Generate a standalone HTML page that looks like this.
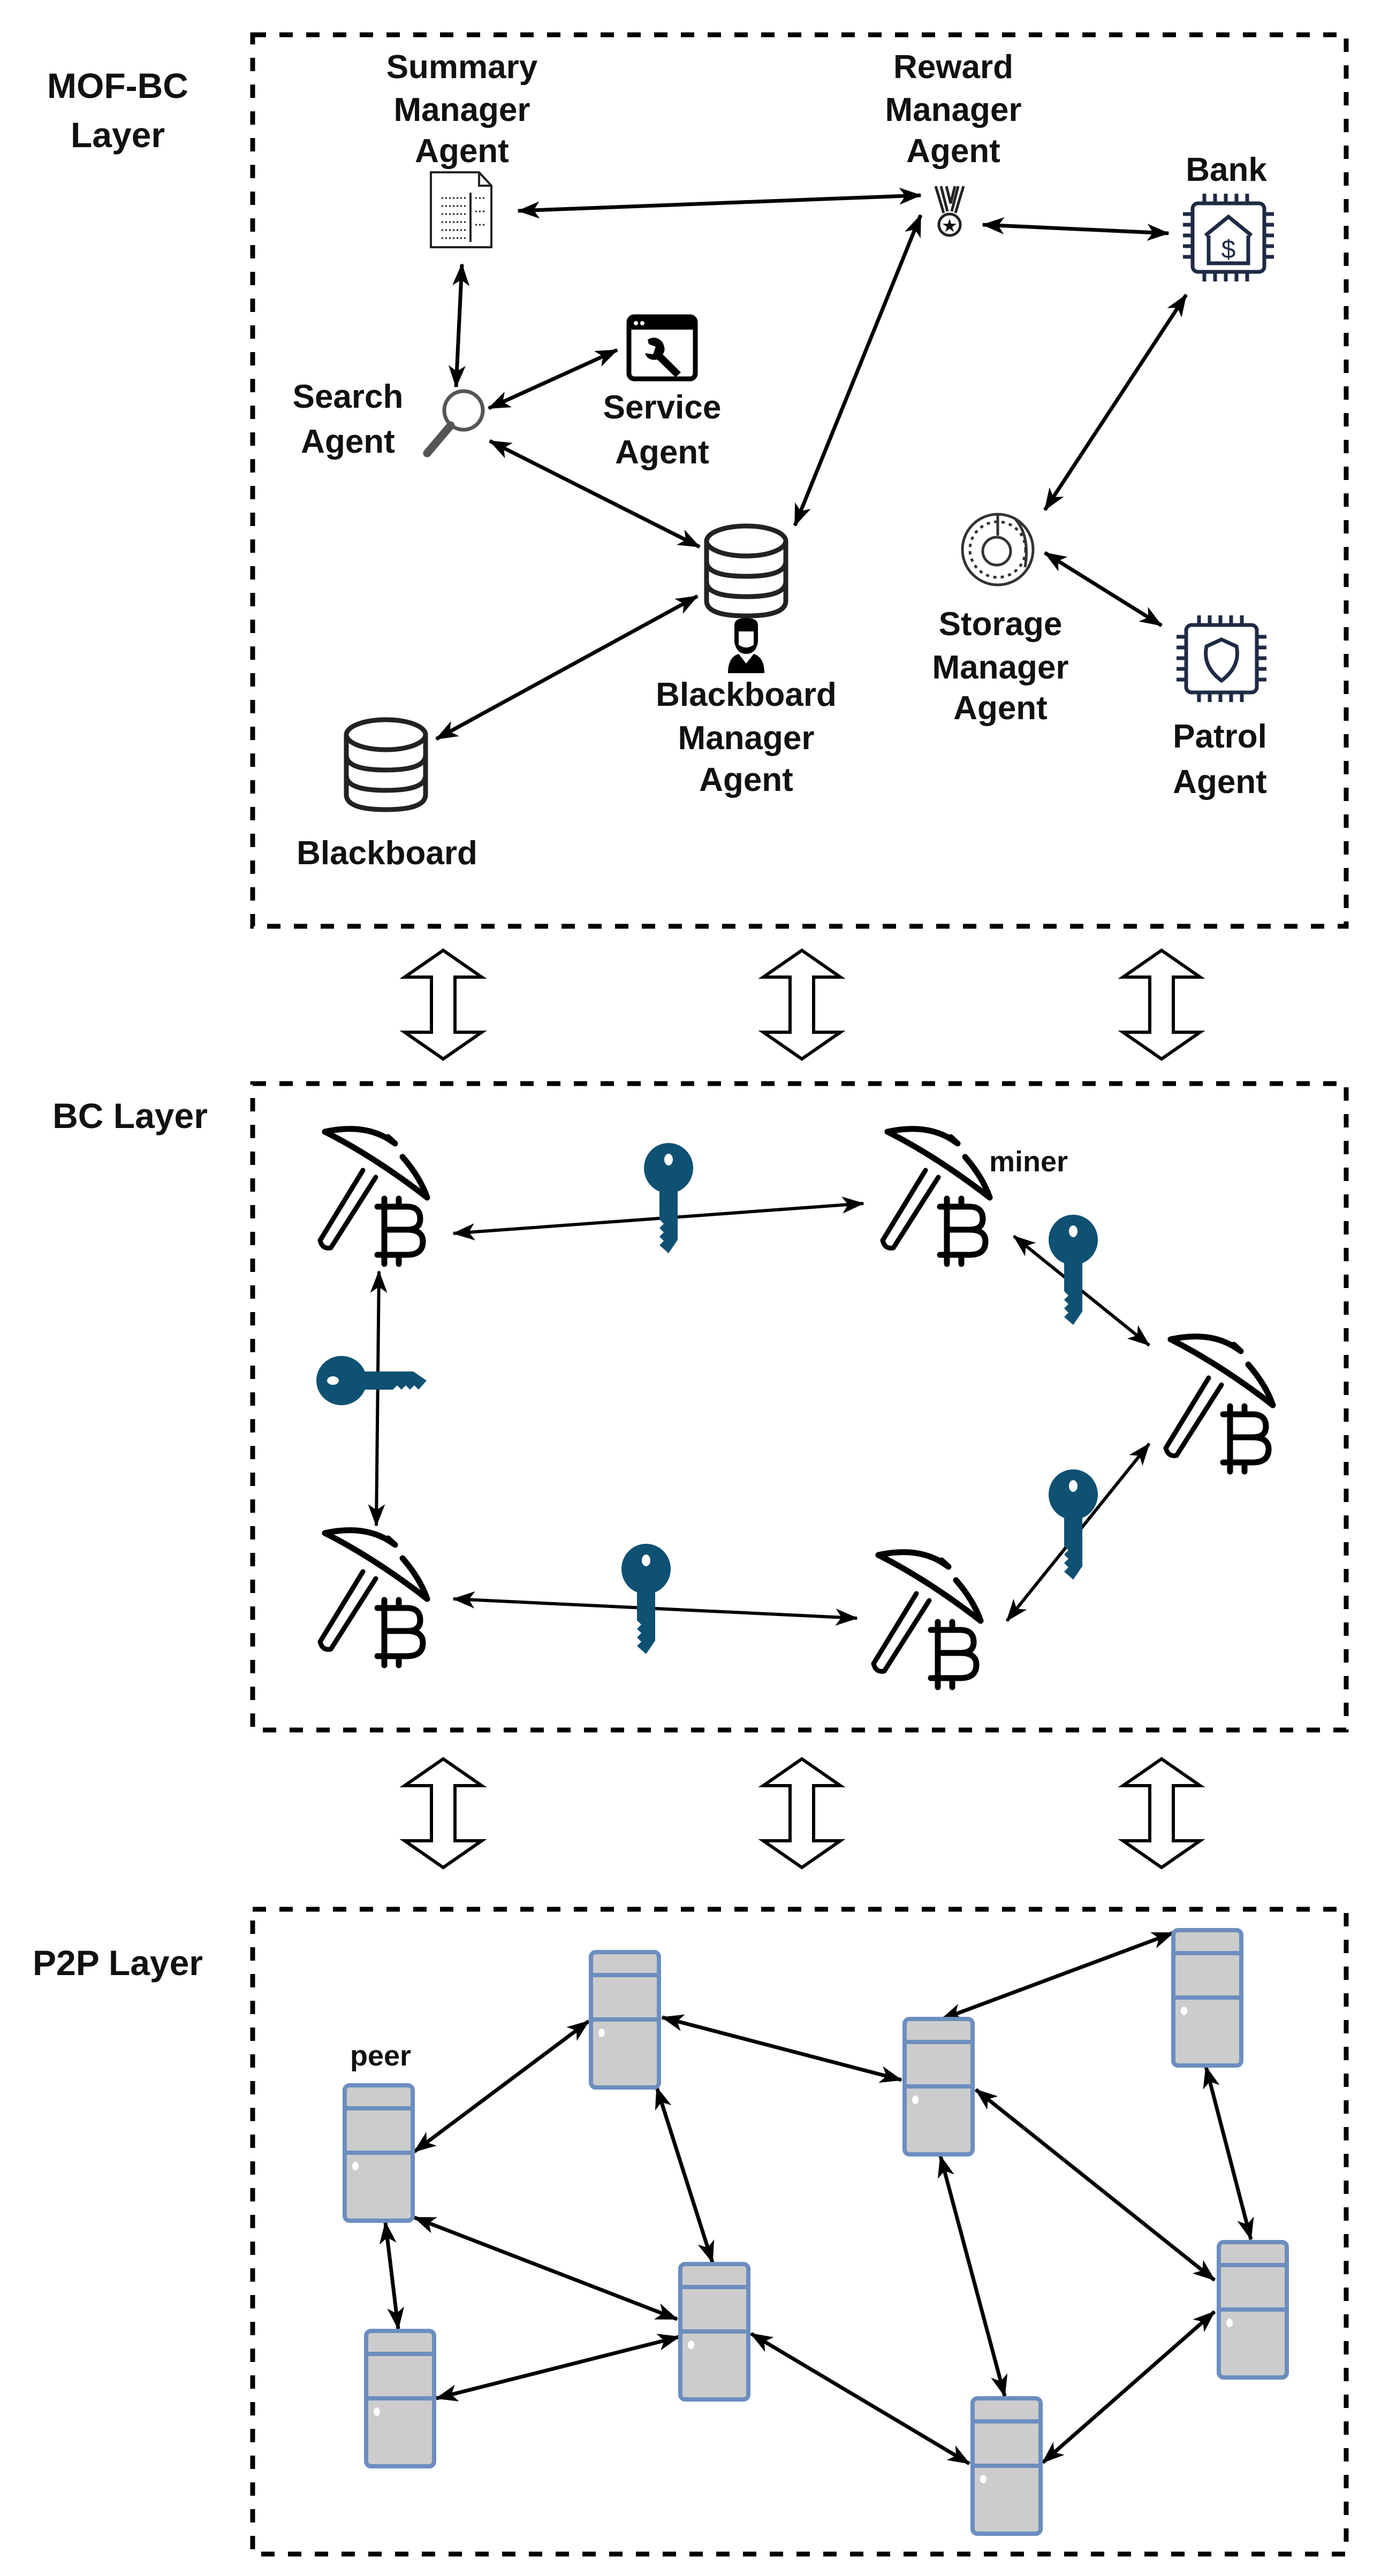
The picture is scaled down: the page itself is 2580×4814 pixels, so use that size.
<!DOCTYPE html>
<html><head><meta charset="utf-8"><style>
html,body{margin:0;padding:0;background:#fff}
svg{display:block}
text{font-family:"Liberation Sans",sans-serif;font-weight:bold;fill:#111}
</style></head><body>
<svg width="2580" height="4814" viewBox="0 0 2580 4814" xmlns="http://www.w3.org/2000/svg">
<defs>
<marker id="ah" markerUnits="userSpaceOnUse" markerWidth="44" markerHeight="34" refX="40" refY="16" orient="auto-start-reverse">
<path d="M0,0 L42,16 L0,32 L11,16 z" fill="#000"/>
</marker>
<g id="miner" fill="none" stroke="#000" stroke-linecap="round" stroke-linejoin="round">
<path d="M27,25 Q 105,8 155,45" stroke-width="11"/>
<path d="M145,35 L158,47" stroke-width="11"/>
<path d="M172,72 Q 205,110 218,148" stroke-width="11"/>
<path d="M27,25 Q 120,72 218,148" stroke-width="11"/>
<path d="M98,97 L18,228 Q 22,245 38,242 L122,110" stroke-width="9"/>
<path d="M138,150 L138,272 M165,150 L165,165 M165,255 L165,272 M125,165 L180,165 Q205,165 205,188 Q205,208 180,208 L138,208 M180,208 Q210,208 210,230 Q210,255 180,255 L125,255" stroke-width="11"/>
</g>
<g id="keyv" fill="#0f5173">
<ellipse cx="0" cy="46" rx="46" ry="47"/>
<path d="M-17,80 L17,80 L17,180 L0,205 L-17,190 L-9,182 L-17,174 L-9,166 L-17,158 L-9,150 L-17,142 z"/>
<ellipse cx="0" cy="30" rx="8" ry="11" fill="#fff"/>
</g>
<g id="server">
<rect x="0" y="0" width="127" height="253" rx="9" fill="#cccccc" stroke="#6c8ebf" stroke-width="8"/>
<line x1="0" y1="43" x2="127" y2="43" stroke="#6c8ebf" stroke-width="8"/>
<line x1="0" y1="126" x2="127" y2="126" stroke="#6c8ebf" stroke-width="8"/>
<ellipse cx="20" cy="151" rx="6" ry="8" fill="#fff"/>
</g>
<g id="hollow" fill="#fff" stroke="#000" stroke-width="6" stroke-linejoin="miter">
<path d="M0,0 L72,50 L22,50 L22,153 L72,153 L0,203 L-72,153 L-22,153 L-22,50 L-72,50 z"/>
</g>
<g id="db" fill="#fff" stroke="#222" stroke-width="9">
<path d="M0,28 L0,140 Q0,168 74,168 Q148,168 148,140 L148,28"/>
<ellipse cx="74" cy="28" rx="74" ry="28"/>
<path d="M0,66 Q0,94 74,94 Q148,94 148,66" fill="none"/>
<path d="M0,104 Q0,132 74,132 Q148,132 148,104" fill="none"/>
</g>
</defs>

<g fill="none" stroke="#000" stroke-width="9" stroke-dasharray="25 25">
<rect x="472" y="65" width="2043" height="1666"/>
<rect x="472" y="2025" width="2043" height="1208"/>
<rect x="472" y="3568" width="2043" height="1205"/>
</g>

<text x="220" y="183" font-size="66" text-anchor="middle">MOF-BC</text>
<text x="220" y="275" font-size="66" text-anchor="middle">Layer</text>
<text x="243" y="2108" font-size="66" text-anchor="middle">BC Layer</text>
<text x="220" y="3691" font-size="66" text-anchor="middle">P2P Layer</text>

<use href="#hollow" x="828" y="1776"/>
<use href="#hollow" x="1498" y="1776"/>
<use href="#hollow" x="2170" y="1776"/>
<use href="#hollow" x="828" y="3287"/>
<use href="#hollow" x="1498" y="3287"/>
<use href="#hollow" x="2170" y="3287"/>

<g font-size="62" text-anchor="middle">
<text x="863" y="146">Summary</text><text x="863" y="226">Manager</text><text x="863" y="303">Agent</text>
<text x="1781" y="146">Reward</text><text x="1781" y="226">Manager</text><text x="1781" y="303">Agent</text>
<text x="2291" y="338">Bank</text>
<text x="650" y="762">Search</text><text x="650" y="846">Agent</text>
<text x="1237" y="782">Service</text><text x="1237" y="866">Agent</text>
<text x="1394" y="1319">Blackboard</text><text x="1394" y="1400">Manager</text><text x="1394" y="1478">Agent</text>
<text x="723" y="1615">Blackboard</text>
<text x="1869" y="1187">Storage</text><text x="1869" y="1268">Manager</text><text x="1869" y="1344">Agent</text>
<text x="2279" y="1397">Patrol</text><text x="2279" y="1482">Agent</text>
</g>

<g fill="#fff" stroke="#222" stroke-width="4">
<path d="M805,322 L895,322 L918,347 L918,462 L805,462 z"/>
<path d="M895,322 L895,347 L918,347" fill="none"/>
<g stroke-dasharray="3 4" stroke-width="3">
<line x1="825" y1="370" x2="870" y2="370"/><line x1="825" y1="385" x2="870" y2="385"/>
<line x1="825" y1="400" x2="870" y2="400"/><line x1="825" y1="415" x2="870" y2="415"/>
<line x1="825" y1="430" x2="870" y2="430"/><line x1="825" y1="445" x2="870" y2="445"/>
<line x1="888" y1="370" x2="905" y2="370"/><line x1="888" y1="395" x2="905" y2="395"/><line x1="888" y1="420" x2="905" y2="420"/>
</g>
<line x1="879" y1="360" x2="879" y2="452" stroke-width="4"/>
</g>
<g fill="none" stroke="#222" stroke-width="5">
<path d="M1748,348 L1763,398 M1758,348 L1770,395 M1800,348 L1785,398 M1790,348 L1778,395 M1768,348 L1776,380 L1784,348"/>
<circle cx="1774" cy="420" r="20"/>
</g>
<text x="1774" y="432" font-size="30" text-anchor="middle">★</text>
<g fill="none" stroke="#1f2a44" stroke-width="7">
<rect x="2228" y="380" width="134" height="128" rx="10"/>
<path d="M2252,440 L2295,405 L2338,440 M2258,440 L2258,492 L2332,492 L2332,440"/>
<path d="M2228,400 L2210,400 M2228,420 L2210,420 M2228,440 L2210,440 M2228,460 L2210,460 M2228,480 L2210,480 M2362,400 L2380,400 M2362,420 L2380,420 M2362,440 L2380,440 M2362,460 L2380,460 M2362,480 L2380,480 M2250,380 L2250,362 M2270,380 L2270,362 M2290,380 L2290,362 M2310,380 L2310,362 M2330,380 L2330,362 M2250,508 L2250,526 M2270,508 L2270,526 M2290,508 L2290,526 M2310,508 L2310,526 M2330,508 L2330,526"/>
</g>
<text x="2295" y="482" font-size="48" text-anchor="middle" style="fill:#1f2a44;font-weight:normal">$</text>
<circle cx="866" cy="767" r="36" fill="#fff" stroke="#555" stroke-width="7"/>
<line x1="842" y1="795" x2="798" y2="847" stroke="#555" stroke-width="15" stroke-linecap="round"/>
<rect x="1175" y="592" width="124" height="116" rx="10" fill="#fff" stroke="#000" stroke-width="9"/>
<rect x="1175" y="592" width="124" height="24" fill="#000"/>
<circle cx="1188" cy="604" r="4" fill="#fff"/><circle cx="1200" cy="604" r="4" fill="#fff"/>
<path d="M1210,635 Q1225,625 1238,640 Q1245,655 1238,662 L1272,696 L1262,705 L1228,672 Q1210,675 1205,660 L1220,662 L1225,648 L1212,643 z" fill="#000"/>
<use href="#db" x="1320" y="983"/>
<use href="#db" x="647" y="1345"/>
<g fill="#000">
<path d="M1372,1168 Q1372,1155 1394,1155 Q1416,1155 1416,1168 L1416,1200 Q1412,1222 1394,1222 Q1376,1222 1372,1200 z"/>
<path d="M1360,1258 Q1360,1228 1380,1222 L1394,1240 L1408,1222 Q1428,1228 1428,1258 z"/>
</g>
<path d="M1380,1180 L1408,1180 L1408,1205 Q1394,1215 1380,1205 z" fill="#fff"/>
<g fill="none" stroke="#333" stroke-width="5">
<circle cx="1864" cy="1027" r="66"/>
<circle cx="1864" cy="1027" r="52" stroke-dasharray="6 8"/>
<circle cx="1862" cy="1030" r="26"/>
<path d="M1864,961 L1864,1001 M1895,968 Q1925,1000 1915,1060"/>
</g>
<g fill="none" stroke="#1f2a44" stroke-width="7">
<rect x="2216" y="1168" width="132" height="126" rx="10"/>
<path d="M2282,1195 L2310,1208 Q2318,1245 2282,1272 Q2246,1245 2254,1208 z"/>
<path d="M2216,1190 L2198,1190 M2216,1210 L2198,1210 M2216,1230 L2198,1230 M2216,1250 L2198,1250 M2216,1270 L2198,1270 M2348,1190 L2366,1190 M2348,1210 L2366,1210 M2348,1230 L2366,1230 M2348,1250 L2366,1250 M2348,1270 L2366,1270 M2240,1168 L2240,1150 M2260,1168 L2260,1150 M2280,1168 L2280,1150 M2300,1168 L2300,1150 M2320,1168 L2320,1150 M2240,1294 L2240,1312 M2260,1294 L2260,1312 M2280,1294 L2280,1312 M2300,1294 L2300,1312 M2320,1294 L2320,1312"/>
</g>

<g stroke="#000" stroke-width="7" fill="none" marker-start="url(#ah)" marker-end="url(#ah)">
<line x1="968" y1="394" x2="1720" y2="365"/>
<line x1="1836" y1="420" x2="2183" y2="436"/>
<line x1="863" y1="494" x2="852" y2="723"/>
<line x1="913" y1="763" x2="1153" y2="654"/>
<line x1="915" y1="824" x2="1307" y2="1022"/>
<line x1="1720" y1="402" x2="1485" y2="982"/>
<line x1="2216" y1="551" x2="1952" y2="953"/>
<line x1="1952" y1="1033" x2="2170" y2="1169"/>
<line x1="1303" y1="1114" x2="815" y2="1381"/>
</g>

<g stroke="#000" stroke-width="6" fill="none" marker-start="url(#ah)" marker-end="url(#ah)">
<line x1="847" y1="2305" x2="1613" y2="2249"/>
<line x1="1894" y1="2310" x2="2147" y2="2514"/>
<line x1="708" y1="2376" x2="703" y2="2851"/>
<line x1="847" y1="2988" x2="1601" y2="3024"/>
<line x1="1881" y1="3029" x2="2147" y2="2698"/>
</g>
<use href="#miner" x="580" y="2090"/>
<use href="#miner" x="1631" y="2090"/>
<use href="#miner" x="2160" y="2478"/>
<use href="#miner" x="1614" y="2881"/>
<use href="#miner" x="580" y="2840"/>
<text x="1848" y="2189" font-size="54">miner</text>
<use href="#keyv" x="1249" y="2137"/>
<use href="#keyv" x="2005" y="2271"/>
<use href="#keyv" x="1207" y="2886"/>
<use href="#keyv" x="2005" y="2747"/>
<use href="#keyv" transform="translate(592,2580) rotate(-90)"/>

<g stroke="#000" stroke-width="7" fill="none" marker-start="url(#ah)" marker-end="url(#ah)">
<line x1="774" y1="4021" x2="1100" y2="3777"/>
<line x1="1237" y1="3770" x2="1684" y2="3887"/>
<line x1="1758" y1="3774" x2="2192" y2="3612"/>
<line x1="1227" y1="3901" x2="1331" y2="4228"/>
<line x1="774" y1="4144" x2="1265" y2="4334"/>
<line x1="720" y1="4153" x2="744" y2="4352"/>
<line x1="815" y1="4482" x2="1269" y2="4367"/>
<line x1="1757" y1="4029" x2="1877" y2="4478"/>
<line x1="1823" y1="3905" x2="2269" y2="4261"/>
<line x1="2253" y1="3862" x2="2337" y2="4185"/>
<line x1="1403" y1="4361" x2="1811" y2="4604"/>
<line x1="2269" y1="4320" x2="1948" y2="4602"/>
</g>
<use href="#server" x="644" y="3897"/>
<use href="#server" x="1104" y="3648"/>
<use href="#server" x="1690" y="3773"/>
<use href="#server" x="2192" y="3607"/>
<use href="#server" x="1271" y="4231"/>
<use href="#server" x="684" y="4356"/>
<use href="#server" x="2277" y="4190"/>
<use href="#server" x="1817" y="4482"/>
<text x="711" y="3860" font-size="54" text-anchor="middle">peer</text>
</svg>
</body></html>
